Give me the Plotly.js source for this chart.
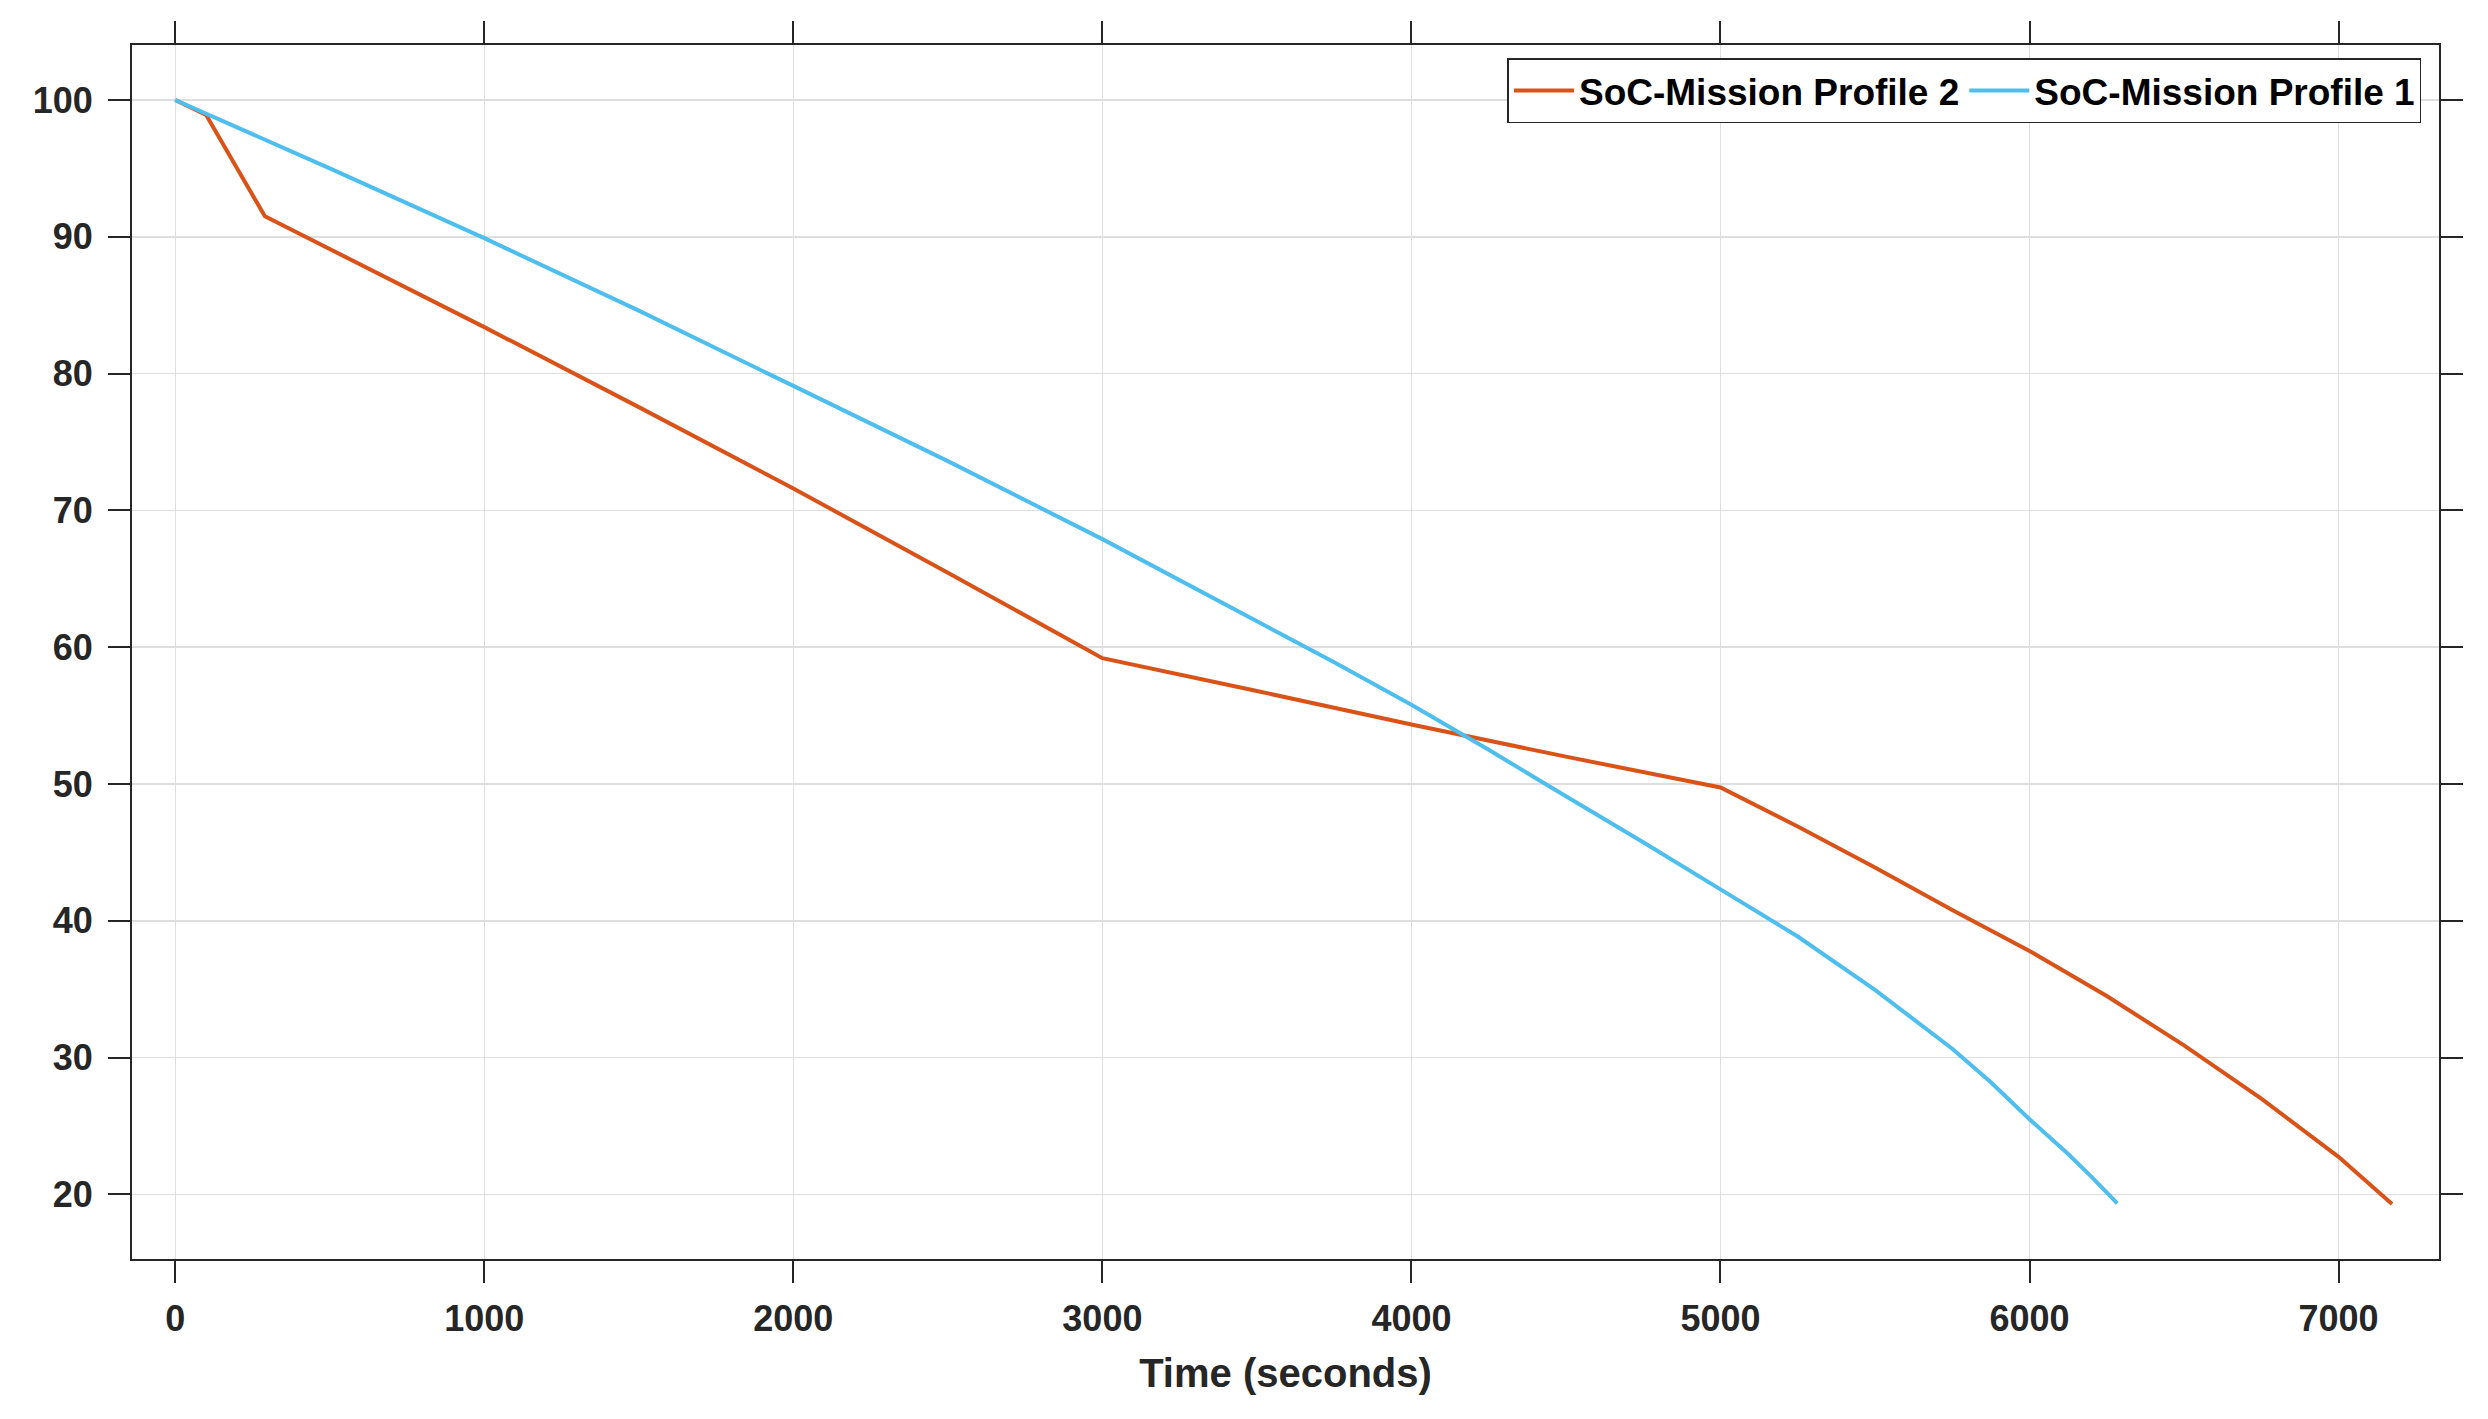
<!DOCTYPE html>
<html>
<head>
<meta charset="utf-8">
<script src="https://cdn.plot.ly/plotly-3.0.1.min.js"></script>
<style>html,body{margin:0;padding:0;background:#fff;}#chart{width:2488px;height:1419px;}</style>
</head>
<body>
<div id="chart"></div>
<script>
// Time (seconds) and SoC (%)
const timeProfile2 = [0, 100, 290, 1000, 1500, 2000, 2500, 3000, 3500, 4000, 4500, 5000, 5250, 5500, 5750, 6000, 6250, 6500, 6750, 7000, 7173];
const socProfile2  = [100, 98.9, 91.5, 83.4, 77.55, 71.6, 65.45, 59.2, 56.8, 54.35, 52.0, 49.75, 46.9, 43.9, 40.8, 37.8, 34.5, 30.9, 27.0, 22.75, 19.3];

const timeProfile1 = [0, 100, 500, 1000, 1500, 2000, 2500, 3000, 3250, 3500, 3750, 4000, 4250, 4500, 4750, 5000, 5250, 5500, 5750, 5875, 6000, 6125, 6200, 6284];
const socProfile1  = [100, 99.0, 95.0, 89.9, 84.6, 79.1, 73.6, 67.9, 64.9, 61.9, 58.9, 55.8, 52.5, 49.1, 45.75, 42.3, 38.85, 34.95, 30.65, 28.2, 25.5, 22.95, 21.3, 19.34];

const seriesNames = ['SoC-Mission Profile 2', 'SoC-Mission Profile 1'];
const xTicks = [0, 1000, 2000, 3000, 4000, 5000, 6000, 7000];
const yTicks = [20, 30, 40, 50, 60, 70, 80, 90, 100];

const fontFam = '"Liberation Sans", Arial, Helvetica, sans-serif';
const ink = '#262626';

const traces = [
  {x: timeProfile2, y: socProfile2, name: seriesNames[0], type: 'scatter', mode: 'lines',
   line: {color: '#D95319', width: 4}},
  {x: timeProfile1, y: socProfile1, name: seriesNames[1], type: 'scatter', mode: 'lines',
   line: {color: '#4DBEEE', width: 4}}
];

const axisCommon = {
  showgrid: true, gridcolor: '#dedede', gridwidth: 1.5,
  zeroline: false, showline: true, linecolor: ink, linewidth: 2,
  mirror: 'ticks', ticks: 'outside', ticklen: 22, tickwidth: 2, tickcolor: ink,
  tickfont: {family: fontFam, size: 36, color: ink, weight: 'bold'}
};

const layout = {
  width: 2488, height: 1419,
  margin: {l: 132, r: 49, t: 45, b: 160, pad: 0},
  paper_bgcolor: '#ffffff', plot_bgcolor: '#ffffff',
  showlegend: true,
  legend: {
    orientation: 'h', x: 0.9924, xanchor: 'right', y: 0.989, yanchor: 'top',
    bgcolor: '#ffffff', bordercolor: ink, borderwidth: 1.5,
    font: {family: fontFam, size: 37, color: '#000', weight: 'bold'},
    itemwidth: 60, traceorder: 'normal'
  },
  xaxis: Object.assign({}, axisCommon, {
    range: [-140, 7325], tickvals: xTicks, ticktext: xTicks.map(String),
    ticklabelstandoff: 5,
    title: {text: 'Time (seconds)', font: {family: fontFam, size: 40, color: ink, weight: 'bold'}, standoff: 21}
  }),
  yaxis: Object.assign({}, axisCommon, {
    range: [15.28, 104.02], tickvals: yTicks, ticktext: yTicks.map(String),
    ticklabelstandoff: 8
  })
};

Plotly.newPlot('chart', traces, layout, {displayModeBar: false, staticPlot: true});
</script>
</body>
</html>
